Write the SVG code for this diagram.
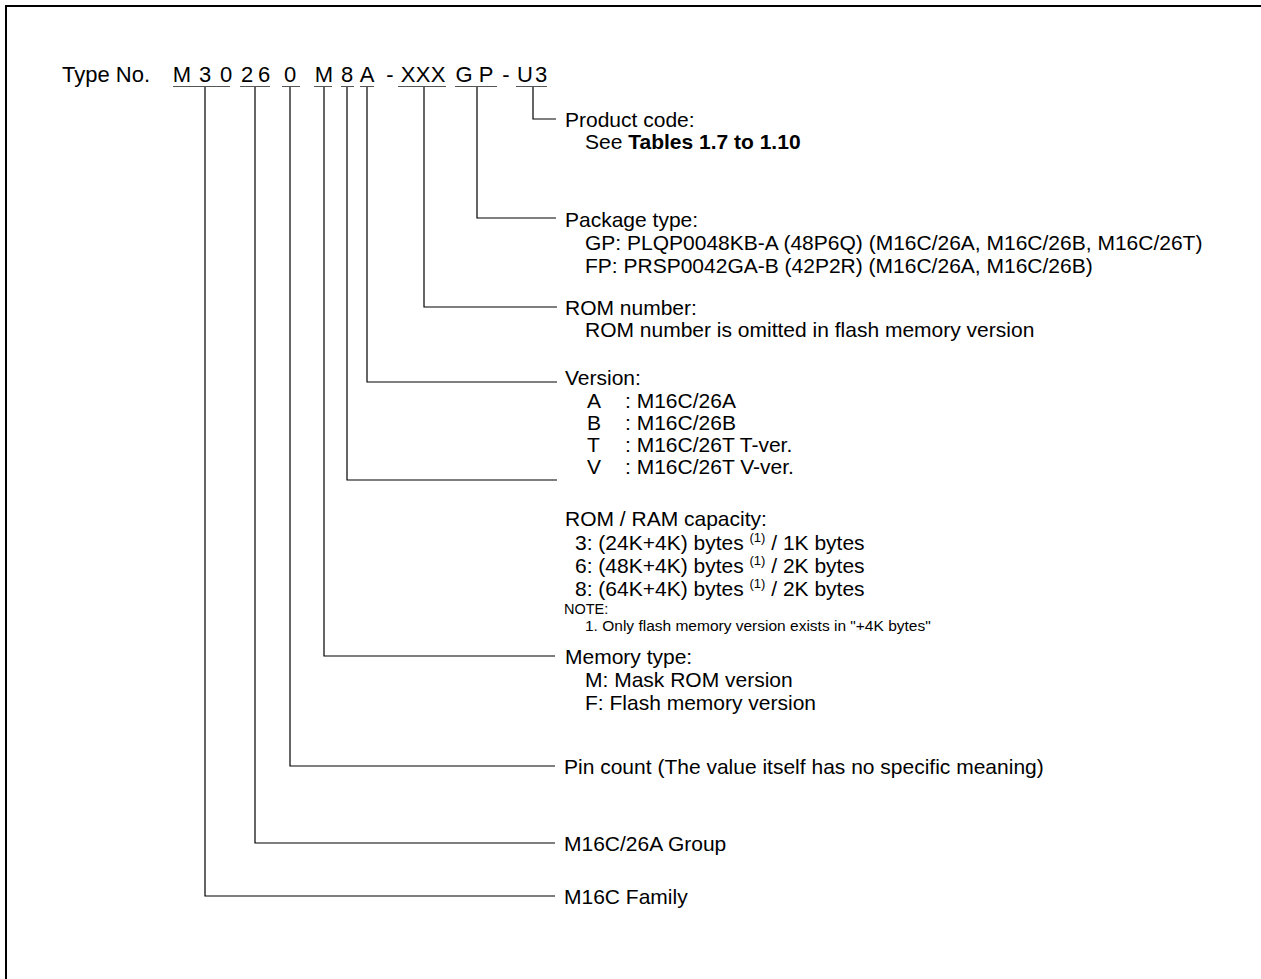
<svg xmlns="http://www.w3.org/2000/svg" width="1261" height="979" viewBox="0 0 1261 979">
<style>
text{font-family:"Liberation Sans",Arial,sans-serif;font-size:21px;fill:#000}
.t{font-size:22px}
.b{font-weight:bold}
.sm{font-size:14.5px}
.nt{font-size:15.5px}
.sup{font-size:13px}
.ln{fill:none;stroke:#000;stroke-width:1.2}
.ul{fill:none;stroke:#555;stroke-width:1.2}
</style>
<rect x="0" y="0" width="1261" height="979" fill="#fff"/>
<path d="M6,979 V6 H1261" fill="none" stroke="#000" stroke-width="2"/>
<g id="title">
<text class="t" x="62" y="82">Type No.</text>
<text class="t" y="82" text-anchor="middle" x="182 194 205 216 226 237 247 256 264 277 290 307 324 336 347 357 367 379 390 396 408 423 438 451 464 475 486 496 506 514 525 541">M 3 0 2 6 0 M 8 A - XXX G P - U3</text>
<path class="ul" d="M173,86.5 H230 M240,86.5 H270 M282,86.5 H300 M314,86.5 H332 M341,86.5 H354 M360,86.5 H374 M398,86.5 H446 M455,86.5 H497 M516,86.5 H547"/>
</g>
<g id="connectors">
<path class="ln" d="M533,87 V119 H556"/>
<path class="ln" d="M477,87 V218 H556"/>
<path class="ln" d="M424,87 V307 H557"/>
<path class="ln" d="M367,87 V382 H557"/>
<path class="ln" d="M347,87 V480 H557"/>
<path class="ln" d="M324,87 V656 H555"/>
<path class="ln" d="M290,87 V766 H555"/>
<path class="ln" d="M255,87 V843 H555"/>
<path class="ln" d="M205,87 V896 H555"/>
</g>
<g id="product-code">
<text x="565" y="126.5">Product code:</text>
<text x="585" y="148.5">See <tspan class="b">Tables 1.7 to 1.10</tspan></text>
</g>
<g id="package-type">
<text x="565" y="226.5">Package type:</text>
<text x="585" y="249.5">GP: PLQP0048KB-A (48P6Q) (M16C/26A, M16C/26B, M16C/26T)</text>
<text x="585" y="272.5">FP: PRSP0042GA-B (42P2R) (M16C/26A, M16C/26B)</text>
</g>
<g id="rom-number">
<text x="565" y="314.5">ROM number:</text>
<text x="585" y="336.5">ROM number is omitted in flash memory version</text>
</g>
<g id="version">
<text x="565" y="385">Version:</text>
<text x="587" y="407.5">A</text><text x="625" y="407.5">: M16C/26A</text>
<text x="587" y="429.5">B</text><text x="625" y="429.5">: M16C/26B</text>
<text x="587" y="451.5">T</text><text x="625" y="451.5">: M16C/26T T-ver.</text>
<text x="587" y="473.5">V</text><text x="625" y="473.5">: M16C/26T V-ver.</text>
</g>
<g id="rom-ram-capacity">
<text x="565" y="525.5">ROM / RAM capacity:</text>
<text x="575" y="549.5">3: (24K+4K) bytes <tspan class="sup" dy="-8">(1)</tspan><tspan dy="8"> / 1K bytes</tspan></text>
<text x="575" y="572.5">6: (48K+4K) bytes <tspan class="sup" dy="-8">(1)</tspan><tspan dy="8"> / 2K bytes</tspan></text>
<text x="575" y="595.5">8: (64K+4K) bytes <tspan class="sup" dy="-8">(1)</tspan><tspan dy="8"> / 2K bytes</tspan></text>
<text class="sm" x="564" y="614">NOTE:</text>
<text class="nt" x="585" y="630.5">1. Only flash memory version exists in "+4K bytes"</text>
</g>
<g id="memory-type">
<text x="565" y="663.5">Memory type:</text>
<text x="585" y="686.5">M: Mask ROM version</text>
<text x="585" y="709.5">F: Flash memory version</text>
</g>
<g id="pin-count">
<text x="564" y="773.5">Pin count (The value itself has no specific meaning)</text>
</g>
<g id="group">
<text x="564" y="850.5">M16C/26A Group</text>
</g>
<g id="family">
<text x="564" y="903.5">M16C Family</text>
</g>
</svg>
